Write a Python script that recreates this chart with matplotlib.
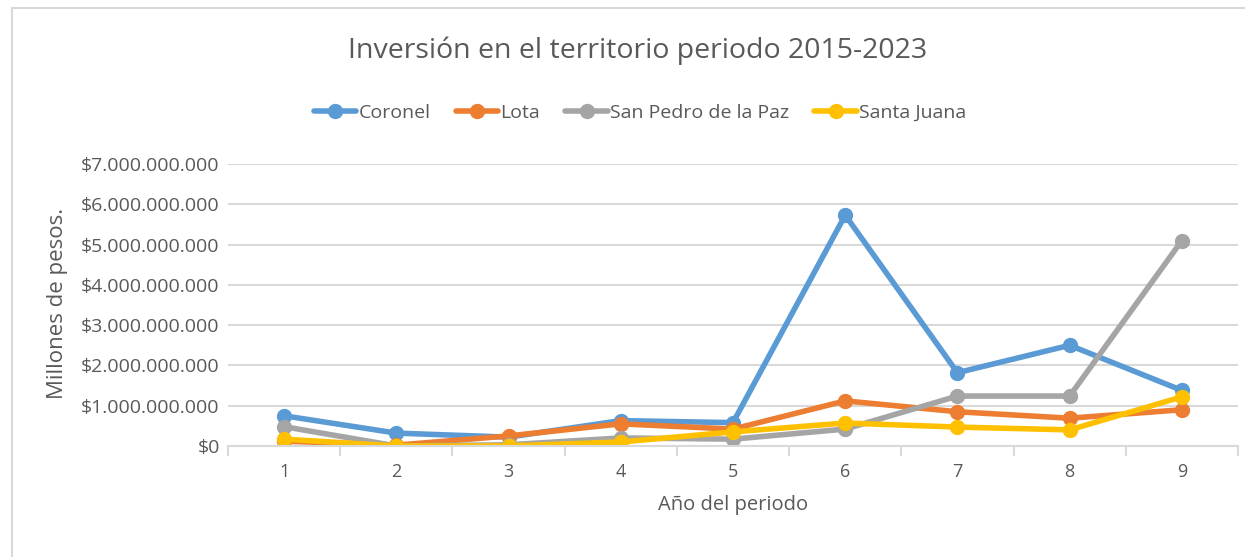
import numpy as np
import matplotlib.pyplot as plt
from matplotlib.patches import Rectangle
from matplotlib.ticker import FuncFormatter, FixedLocator

plt.rcParams['font.family'] = ['Open Sans', 'DejaVu Sans']

# Data (values in pesos)
years = [1, 2, 3, 4, 5, 6, 7, 8, 9]
coronel = [0.75e9, 0.32e9, 0.22e9, 0.63e9, 0.58e9, 5.73e9, 1.82e9, 2.50e9, 1.38e9]
lota = [0.12e9, 0.02e9, 0.25e9, 0.55e9, 0.42e9, 1.12e9, 0.85e9, 0.69e9, 0.90e9]
san_pedro = [0.48e9, 0.0, 0.03e9, 0.20e9, 0.17e9, 0.42e9, 1.24e9, 1.24e9, 5.10e9]
santa_juana = [0.17e9, 0.0, 0.0, 0.10e9, 0.35e9, 0.57e9, 0.47e9, 0.40e9, 1.22e9]

series = [("Coronel", coronel, "#5b9bd5"),
          ("Lota", lota, "#ed7d31"),
          ("San Pedro de la Paz", san_pedro, "#a5a5a5"),
          ("Santa Juana", santa_juana, "#ffc000")]

txt = "#595959"
grid = "#d9d9d9"

fig = plt.figure(figsize=(12.45, 5.57), dpi=100)
W, H = 1245, 557
fig.patches.append(Rectangle((12 / W, -0.1), 1.2, (557 - 8) / H + 0.1, transform=fig.transFigure,
                             fill=False, edgecolor=grid, linewidth=1.5))

ax = fig.add_axes([228 / W, 1 - 446 / H, (1238 - 228) / W, (446 - 164) / H])

for name, vals, col in series:
    ax.plot(years, vals, color=col, lw=4, marker='o', ms=10, label=name,
            solid_capstyle='round', solid_joinstyle='round')

ax.set_xlim(0.5, 9.5)
ax.set_ylim(0, 7e9)
ax.set_yticks(np.arange(0, 7.01e9, 1e9))
ax.yaxis.set_major_formatter(FuncFormatter(lambda v, p: "$" + f"{v:,.0f}".replace(",", ".")))
ax.set_xticks(years)
ax.xaxis.set_minor_locator(FixedLocator(np.arange(0.5, 9.6, 1)))
ax.tick_params(axis='x', which='major', length=0, pad=12, labelsize=13, labelcolor=txt)
ax.tick_params(axis='x', which='minor', length=7, color=grid, width=1.5)
ax.tick_params(axis='y', length=0, pad=6, labelsize=14, labelcolor=txt)
ax.grid(axis='y', color=grid, lw=1.5)
ax.set_axisbelow(True)
for s in ['left', 'right', 'top']:
    ax.spines[s].set_visible(False)
ax.spines['bottom'].set_color(grid)
ax.spines['bottom'].set_linewidth(1.5)

ax.set_xlabel("Año del periodo", fontsize=14.5, color=txt, labelpad=10)
fig.text(57 / W, 1 - 303 / H, "Millones de pesos.", rotation=90, fontsize=16, color=txt,
         ha='center', va='center')
fig.text(638 / W, 1 - 51 / H, "Inversión en el territorio periodo 2015-2023", fontsize=20.5,
         color=txt, ha='center', va='center')

leg = fig.legend(loc='center', bbox_to_anchor=(640 / W, 1 - 113 / H), ncol=4, frameon=False,
                 fontsize=14, handlelength=2.2, handletextpad=0.1, columnspacing=1.3,
                 labelcolor=txt)

fig.savefig("out.png", dpi=100)
